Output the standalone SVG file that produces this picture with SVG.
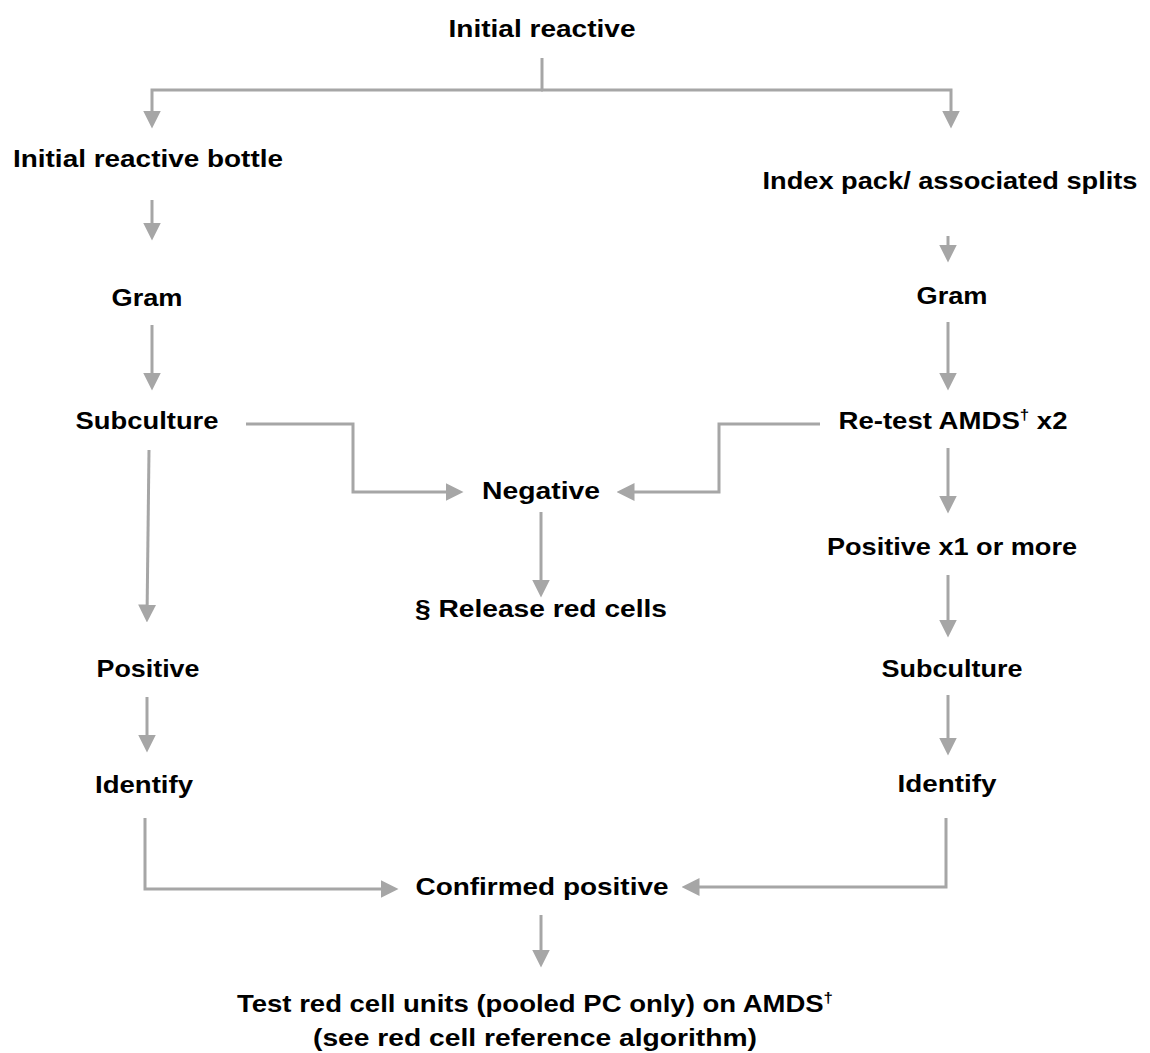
<svg xmlns="http://www.w3.org/2000/svg" width="1150" height="1053" viewBox="0 0 1150 1053">
<style>
.t{font-family:"Liberation Sans",Arial,sans-serif;font-weight:bold;font-size:24.5px;fill:#000;text-anchor:middle}
.c{fill:none;stroke:#a6a6a6;stroke-width:3}
</style>
<defs>
<marker id="ah" markerUnits="userSpaceOnUse" markerWidth="18" markerHeight="18" refX="12" refY="8" orient="auto" viewBox="0 0 16 16">
<path d="M0,0 L16,8 L0,16 z" fill="#a6a6a6"/>
</marker>
</defs>
<rect width="1150" height="1053" fill="#fff"/>
<g id="connectors">
<path class="c" d="M542,58 V90"/>
<path class="c" d="M543,90 H152 V124" marker-end="url(#ah)"/>
<path class="c" d="M541,90 H951 V124" marker-end="url(#ah)"/>
<path class="c" d="M152,200 V236" marker-end="url(#ah)"/>
<path class="c" d="M152,325 V386" marker-end="url(#ah)"/>
<path class="c" d="M149,450 L147,618" marker-end="url(#ah)"/>
<path class="c" d="M147,697 V748" marker-end="url(#ah)"/>
<path class="c" d="M145,818 V889 H394" marker-end="url(#ah)"/>
<path class="c" d="M246,424 H353 V492 H459" marker-end="url(#ah)"/>
<path class="c" d="M820,424 H719 V492 H621" marker-end="url(#ah)"/>
<path class="c" d="M541,512 V593" marker-end="url(#ah)"/>
<path class="c" d="M948,236 V258" marker-end="url(#ah)"/>
<path class="c" d="M948,322 V386" marker-end="url(#ah)"/>
<path class="c" d="M948,448 V509" marker-end="url(#ah)"/>
<path class="c" d="M948,575 V633" marker-end="url(#ah)"/>
<path class="c" d="M948,695 V751" marker-end="url(#ah)"/>
<path class="c" d="M946,818 V887 H686" marker-end="url(#ah)"/>
<path class="c" d="M541,915 V963" marker-end="url(#ah)"/>
</g>
<g id="n-initial"><text class="t" x="542" y="37" textLength="187" lengthAdjust="spacingAndGlyphs">Initial reactive</text></g>
<g id="n-bottle"><text class="t" x="148" y="167" textLength="270" lengthAdjust="spacingAndGlyphs">Initial reactive bottle</text></g>
<g id="n-index"><text class="t" x="950" y="189" textLength="375" lengthAdjust="spacingAndGlyphs">Index pack/ associated splits</text></g>
<g id="n-gram-l"><text class="t" x="147" y="306" textLength="71" lengthAdjust="spacingAndGlyphs">Gram</text></g>
<g id="n-gram-r"><text class="t" x="952" y="304" textLength="71" lengthAdjust="spacingAndGlyphs">Gram</text></g>
<g id="n-sub-l"><text class="t" x="147" y="429" textLength="143" lengthAdjust="spacingAndGlyphs">Subculture</text></g>
<g id="n-retest"><text class="t" x="953" y="429" textLength="229" lengthAdjust="spacingAndGlyphs">Re-test AMDS<tspan dy="-9" font-size="15">†</tspan><tspan dy="9"> x2</tspan></text></g>
<g id="n-negative"><text class="t" x="541" y="499" textLength="118" lengthAdjust="spacingAndGlyphs">Negative</text></g>
<g id="n-release"><text class="t" x="541" y="617" textLength="252" lengthAdjust="spacingAndGlyphs">§ Release red cells</text></g>
<g id="n-posx1"><text class="t" x="952" y="555" textLength="250" lengthAdjust="spacingAndGlyphs">Positive x1 or more</text></g>
<g id="n-pos-l"><text class="t" x="148" y="677" textLength="103" lengthAdjust="spacingAndGlyphs">Positive</text></g>
<g id="n-sub-r"><text class="t" x="952" y="677" textLength="141" lengthAdjust="spacingAndGlyphs">Subculture</text></g>
<g id="n-id-l"><text class="t" x="144" y="793" textLength="98" lengthAdjust="spacingAndGlyphs">Identify</text></g>
<g id="n-id-r"><text class="t" x="947" y="792" textLength="99" lengthAdjust="spacingAndGlyphs">Identify</text></g>
<g id="n-confirmed"><text class="t" x="542" y="895" textLength="253" lengthAdjust="spacingAndGlyphs">Confirmed positive</text></g>
<g id="n-test">
<text class="t" x="535" y="1012" textLength="596" lengthAdjust="spacingAndGlyphs">Test red cell units (pooled PC only) on AMDS<tspan dy="-9" font-size="15">†</tspan></text>
<text class="t" x="535" y="1046" textLength="444" lengthAdjust="spacingAndGlyphs">(see red cell reference algorithm)</text>
</g>
</svg>
